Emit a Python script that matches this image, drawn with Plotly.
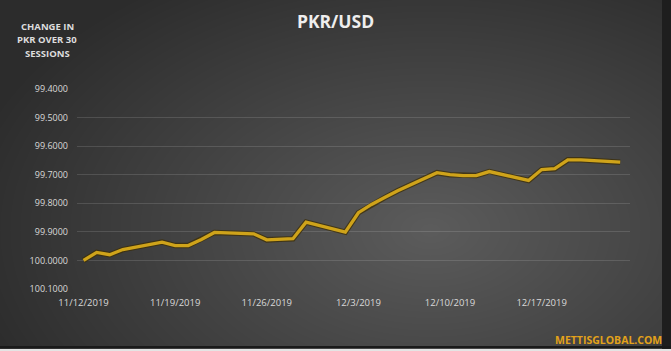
import base64, struct, zlib
import numpy as np
import plotly.graph_objects as go

# ---- data ----
dates = ["2019-11-12", "2019-11-13", "2019-11-14", "2019-11-15",
         "2019-11-18", "2019-11-19", "2019-11-20", "2019-11-21", "2019-11-22",
         "2019-11-25", "2019-11-26", "2019-11-27", "2019-11-28", "2019-11-29",
         "2019-12-02", "2019-12-03", "2019-12-04", "2019-12-05", "2019-12-06",
         "2019-12-09", "2019-12-10", "2019-12-11", "2019-12-12", "2019-12-13",
         "2019-12-16", "2019-12-17", "2019-12-18", "2019-12-19", "2019-12-20",
         "2019-12-23"]
pkr_usd = [100.000, 99.972, 99.980, 99.962,
           99.936, 99.948, 99.948, 99.927, 99.902,
           99.907, 99.928, 99.926, 99.924, 99.866,
           99.901, 99.833, 99.804, 99.780, 99.756,
           99.693, 99.700, 99.703, 99.703, 99.689,
           99.720, 99.682, 99.679, 99.648, 99.648,
           99.656]
x_tick_vals = ["2019-11-12", "2019-11-19", "2019-11-26", "2019-12-03",
               "2019-12-10", "2019-12-17"]
x_tick_text = ["11/12/2019", "11/19/2019", "11/26/2019", "12/3/2019",
               "12/10/2019", "12/17/2019"]
y_tick_vals = [99.4, 99.5, 99.6, 99.7, 99.8, 99.9, 100.0, 100.1]

# ---- layout geometry ----
W, H = 671, 351
L, R, T, B = 77, 41, 89, 62
PW, PH = W - L - R, H - T - B

# ---- background gradient image ----
yy, xx = np.mgrid[0:H, 0:W]
cx, cy, rx, ry = 430, 230, 480, 300
r = np.sqrt(((xx - cx) / rx) ** 2 + ((yy - cy) / ry) ** 2)
v = 0x5c - (0x5c - 0x2c) * np.clip(r, 0, 1)
v[:, 662:] = 0x1e
v[346:348, :] = 0x1a
v[349:, :] = 0xe4
arr = np.clip(v, 0, 255).astype(np.uint8)


def _chunk(t, d):
    return struct.pack(">I", len(d)) + t + d + struct.pack(">I", zlib.crc32(t + d) & 0xffffffff)


raw = b"".join(b"\x00" + row.tobytes() for row in arr)
png = (b"\x89PNG\r\n\x1a\n"
       + _chunk(b"IHDR", struct.pack(">IIBBBBB", W, H, 8, 0, 0, 0, 0))
       + _chunk(b"IDAT", zlib.compress(raw, 9))
       + _chunk(b"IEND", b""))
bg_src = "data:image/png;base64," + base64.b64encode(png).decode()

fig = go.Figure()
fig.add_trace(go.Scatter(x=dates, y=pkr_usd, mode="lines",
                         line=dict(color="rgba(60,45,5,0.75)", width=5.5),
                         hoverinfo="skip", showlegend=False))
fig.add_trace(go.Scatter(x=dates, y=pkr_usd, mode="lines",
                         line=dict(color="#CFA31A", width=3.3),
                         showlegend=False))

notes = ["CHANGE IN", "PKR OVER 30", "SESSIONS"]
note_y = [27, 40, 53]
annotations = [
    dict(text="<b>%s</b>" % t, xref="paper", yref="paper",
         x=(47 - L) / PW, y=1 + (T - yv) / PH,
         xanchor="center", yanchor="middle", showarrow=False,
         font=dict(family="Open Sans", size=9.5, color="#dddddd"))
    for t, yv in zip(notes, note_y)
]
annotations.append(
    dict(text="<b>METTISGLOBAL.COM</b>",
         xref="paper", yref="paper", x=(664 - L) / PW, y=-(340 - T - PH) / PH,
         xanchor="right", yanchor="middle", showarrow=False,
         font=dict(family="Open Sans", size=10.5, color="#E3A21A")))

fig.update_layout(
    width=W, height=H,
    margin=dict(l=L, r=R, t=T, b=B, pad=0),
    paper_bgcolor="#333333",
    plot_bgcolor="rgba(0,0,0,0)",
    font=dict(family="Open Sans", color="#d9d9d9", size=9),
    images=[dict(source=bg_src, xref="paper", yref="paper",
                 x=-L / PW, y=1 + T / PH, sizex=W / PW, sizey=H / PH,
                 xanchor="left", yanchor="top", sizing="stretch",
                 layer="below")],
    title=dict(text="<b>PKR/USD</b>", x=0.5, xref="container", xanchor="center",
               y=1 - 22 / H, yref="container", yanchor="middle",
               font=dict(family="Open Sans", size=17.5, color="#eeeeee")),
    xaxis=dict(type="date",
               range=["2019-11-11 12:00", "2019-12-23 18:00"],
               tickvals=x_tick_vals, ticktext=x_tick_text,
               showgrid=False, zeroline=False, showline=False, ticks="",
               tickfont=dict(size=9.5, color="#d9d9d9"),
               ticklabelstandoff=6),
    yaxis=dict(range=[100.1, 99.4], tickvals=y_tick_vals, tickformat=".4f",
               showgrid=True, gridcolor="rgba(255,255,255,0.13)", gridwidth=1,
               zeroline=False, showline=False, ticks="",
               tickfont=dict(size=9, color="#d9d9d9"),
               ticklabelstandoff=8),
    annotations=annotations,
)

fig.write_html("out.html")
